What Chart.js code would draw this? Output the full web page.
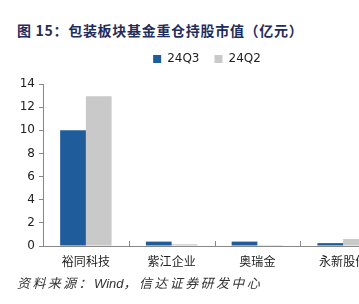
<!DOCTYPE html>
<html>
<head>
<meta charset="utf-8">
<script src="https://cdn.jsdelivr.net/npm/chart.js@4/dist/chart.umd.min.js"></script>
<style>
    html, body { margin: 0; padding: 0; background: #fff; overflow: hidden; width: 359px; height: 304px; position: relative; }
    #title { position: absolute; left: 17px; top: 20px; font: bold 14px "Noto Sans CJK SC", sans-serif; letter-spacing: 0.7px; color: #1f2d5c; white-space: nowrap; line-height: 20px; }
    #source { position: absolute; left: 17px; top: 274px; font: italic 13px "Noto Sans CJK SC", sans-serif; letter-spacing: 2.4px; color: #333; white-space: nowrap; line-height: 18px; }
    #chart { position: absolute; left: 0; top: 37px; }
</style>
</head>
<body>
<div id="title">图 15：包装板块基金重仓持股市值（亿元）</div>
<canvas id="chart" width="390" height="239"></canvas>
<div id="source">资料来源：<span style="font-family:'Liberation Sans',sans-serif;letter-spacing:0">Wind</span>，信达证券研发中心</div>
<script>
// chart data
const categories = ['裕同科技', '紫江企业', '奥瑞金', '永新股份'];
const q3Values = [10.0, 0.38, 0.38, 0.25];
const q2Values = [12.95, 0.15, 0.08, 0.6];
const seriesNames = ['24Q3', '24Q2'];
const yTicks = [0, 2, 4, 6, 8, 10, 12, 14];

// short upward tick marks between categories on the x axis
const categoryTicks = {
    id: 'categoryTicks',
    afterDraw(chart) {
        const x = chart.scales.x;
        const ctx = chart.ctx;
        ctx.save();
        ctx.strokeStyle = '#888';
        ctx.lineWidth = 1;
        for (let i = 0; i < categories.length; i++) {
            const px = Math.round(x.getPixelForValue(i) + x.width / categories.length / 2) + 0.5;
            ctx.beginPath();
            ctx.moveTo(px, x.top);
            ctx.lineTo(px, x.top - 5);
            ctx.stroke();
        }
        ctx.restore();
    }
};

// more room under the legend, and nudge it right over the plot
const legendTweak = {
    id: 'legendTweak',
    beforeUpdate(chart) {
        const legend = chart.legend;
        if (legend && !legend._tweaked) {
            const fit = legend.fit;
            legend.fit = function() {
                fit.call(this);
                this.height += 9;
            };
            legend._tweaked = true;
        }
    },
    afterLayout(chart) {
        if (chart.legend) {
            chart.legend.left += 14;
            chart.legend.right += 14;
        }
    }
};

const ctx = document.getElementById('chart').getContext('2d');
new Chart(ctx, {
    type: 'bar',
    data: {
        labels: categories,
        datasets: [
            { label: seriesNames[0], data: q3Values, backgroundColor: '#1f5c9c', categoryPercentage: 0.6, barPercentage: 1.0 },
            { label: seriesNames[1], data: q2Values, backgroundColor: '#c9c9c9', categoryPercentage: 0.6, barPercentage: 1.0 }
        ]
    },
    options: {
        responsive: false,
        animation: false,
        layout: { padding: { top: 1, right: 4, left: 0, bottom: 0 } },
        plugins: {
            legend: {
                position: 'top',
                labels: {
                    boxWidth: 8,
                    boxHeight: 8,
                    padding: 15,
                    color: '#222',
                    font: { family: 'DejaVu Sans', size: 12 }
                }
            },
            tooltip: { enabled: false }
        },
        scales: {
            x: {
                afterFit(scale) { scale.height = 30; },
                grid: { display: false, drawTicks: false },
                border: { color: '#888', width: 1 },
                ticks: {
                    color: '#222',
                    padding: 8,
                    maxRotation: 0,
                    minRotation: 0,
                    font: { family: 'Noto Sans CJK SC', size: 12, lineHeight: 1.2 }
                }
            },
            y: {
                min: 0,
                max: 14,
                afterBuildTicks(scale) { scale.ticks = yTicks.map(v => ({ value: v })); },
                afterFit(scale) { scale.width = 43; },
                grid: { drawOnChartArea: false, drawTicks: true, tickLength: 4, color: '#888' },
                border: { color: '#888', width: 1 },
                ticks: {
                    color: '#222',
                    padding: 4,
                    font: { family: 'DejaVu Sans', size: 12 }
                }
            }
        }
    },
    plugins: [categoryTicks, legendTweak]
});
</script>
</body>
</html>
